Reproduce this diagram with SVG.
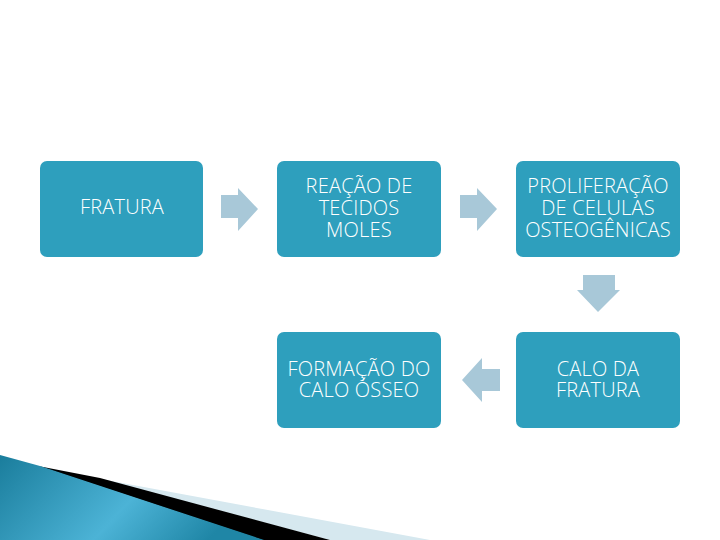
<svg xmlns="http://www.w3.org/2000/svg" width="720" height="540" viewBox="0 0 720 540">
<defs>
<style>
.box{fill:#2e9fbd;}
.t{font-family:"Open Sans","Liberation Sans",sans-serif;font-size:20px;letter-spacing:0.2px;fill:#ffffff;text-anchor:middle;font-weight:300;}
.arr{fill:#a8c8d8;}
</style>
<linearGradient id="g" x1="0" y1="0" x2="1" y2="0.3">
<stop offset="0" stop-color="#1a7d9c"/>
<stop offset="0.6" stop-color="#4cb3d6"/>
<stop offset="1" stop-color="#1f86a6"/>
</linearGradient>
</defs>
<rect width="720" height="540" fill="#ffffff"/>
<g id="decor">
<polygon points="95,478 430,540 330,540" fill="#d6e8ef"/>
<polygon points="38,466 100,478 330,540 262,540" fill="#000000"/>
<polygon points="0,455 40,466 264,540 0,540" fill="url(#g)"/>
</g>
<g id="connectors">
<polygon class="arr" points="221,195 238,195 238,188 258,209 238,231 238,218 221,218"/>
<polygon class="arr" points="460,195 477,195 477,188 497,209 477,231 477,218 460,218"/>
<polygon class="arr" points="583,275 615,275 615,290 620,290 598,312 577,290 583,290"/>
<polygon class="arr" points="500,369 482,369 482,358 462,380 482,402 482,391 500,391"/>
</g>
<g id="n1"><rect class="box" x="40" y="161" width="163" height="96" rx="7"/><text class="t" x="122" y="214">FRATURA</text></g>
<g id="n2"><rect class="box" x="277" y="161" width="164" height="96" rx="7"/><text class="t" x="359" y="193">REAÇÃO DE</text><text class="t" x="359" y="215">TECIDOS</text><text class="t" x="359" y="237">MOLES</text></g>
<g id="n3"><rect class="box" x="516" y="161" width="164" height="96" rx="7"/><text class="t" x="598" y="193">PROLIFERAÇÃO</text><text class="t" x="598" y="215">DE CELULAS</text><text class="t" x="598" y="237">OSTEOGÊNICAS</text></g>
<g id="n4"><rect class="box" x="277" y="332" width="164" height="96" rx="7"/><text class="t" x="359" y="376">FORMAÇÃO DO</text><text class="t" x="359" y="397">CALO ÓSSEO</text></g>
<g id="n5"><rect class="box" x="516" y="332" width="164" height="96" rx="7"/><text class="t" x="598" y="376">CALO DA</text><text class="t" x="598" y="397">FRATURA</text></g>
</svg>
